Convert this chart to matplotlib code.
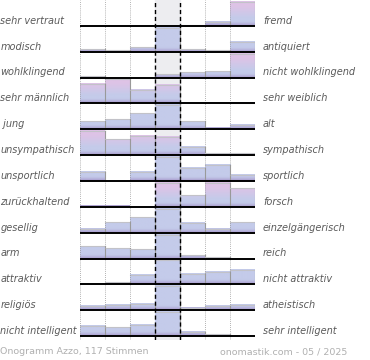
import numpy as np
import matplotlib
matplotlib.use("Agg")
import matplotlib.pyplot as plt
from matplotlib import transforms
from matplotlib.colors import to_rgb

# --- datos ---
izquierda = ["sehr vertraut", "modisch", "wohlklingend", "sehr männlich", " jung",
             "unsympathisch", "unsportlich", "zurückhaltend", "gesellig", "arm",
             "attraktiv", "religiös", "nicht intelligent"]
derecha = ["fremd", "antiquiert", "nicht wohlklingend", "sehr weiblich", "alt",
           "sympathisch", "sportlich", "forsch", "einzelgängerisch", "reich",
           "nicht attraktiv", "atheistisch", "sehr intelligent"]

# altura relativa de cada columna (7 escalones por fila)
valores = [
    [0.00, 0.00, 0.00, 0.00, 0.04, 0.17, 1.00],
    [0.12, 0.07, 0.18, 1.00, 0.12, 0.06, 0.42],
    [0.05, 0.00, 0.00, 0.15, 0.23, 0.29, 1.00],
    [0.82, 1.00, 0.55, 0.77, 0.00, 0.00, 0.03],
    [0.33, 0.41, 0.66, 1.00, 0.33, 0.07, 0.19],
    [1.00, 0.66, 0.81, 0.77, 0.34, 0.07, 0.08],
    [0.38, 0.00, 0.38, 1.00, 0.56, 0.67, 0.25],
    [0.05, 0.05, 0.00, 1.00, 0.48, 1.00, 0.77],
    [0.17, 0.43, 0.64, 1.00, 0.42, 0.17, 0.43],
    [0.51, 0.44, 0.39, 1.00, 0.14, 0.06, 0.00],
    [0.00, 0.08, 0.39, 1.00, 0.43, 0.51, 0.60],
    [0.19, 0.23, 0.28, 1.00, 0.11, 0.19, 0.23],
    [0.44, 0.37, 0.47, 1.00, 0.17, 0.07, 0.00],
]

pie_izq = "Onogramm Azzo, 117 Stimmen"
pie_der = "onomastik.com - 05 / 2025"

# --- colores ---
azul = np.array(to_rgb("#c4cbea"))
rosa = np.array(to_rgb("#dec3e6"))
morado = np.array(to_rgb("#a493c8"))
texto_gris = "#5a5a5a"


def color_en(t, polarizada):
    # t = fracción de la altura de la fila (0 = base)
    c = azul.copy()
    if polarizada:
        k = np.clip((t - 0.3) / 0.45, 0, 1)
        c = c * (1 - k) + rosa * k
    b = np.clip(1 - t / 0.18, 0, 1) ** 1.5
    return c * (1 - b) + morado * b


n_filas = len(valores)
escala = 0.93

fig = plt.figure(figsize=(3.7, 3.6), dpi=100)
ax = fig.add_axes([80 / 370, 20 / 360, 175 / 370, 340 / 360])
ax.set_xlim(0, 7)
ax.set_ylim(-0.15, n_filas)
ax.axis("off")

# fondo de la columna central
ax.axvspan(3, 4, color="#ededf0", zorder=0)

for i, fila in enumerate(valores):
    base = n_filas - 1 - i
    fila = np.array(fila)
    polarizada = any(v >= fila.max() for j, v in enumerate(fila) if j != 3)
    for j, v in enumerate(fila):
        h = v * escala
        if h <= 0:
            continue
        ts = np.linspace(0, h, 60)
        img = np.array([color_en(t, polarizada) for t in ts]).reshape(-1, 1, 3)
        ax.imshow(img, extent=(j, j + 1, base, base + h), origin="lower",
                  aspect="auto", interpolation="bilinear", zorder=2)
        ax.plot([j, j + 1], [base + h, base + h], color="#c2c2c8", lw=0.8, zorder=3)
        ax.plot([j + 1, j + 1], [base, base + h], color="#9a9a9a", lw=0.8, zorder=3)

# rejilla
for x in [0, 1, 2, 5, 6, 7]:
    ax.axvline(x, color="#999999", lw=0.6, ls=(0, (1, 1.5)), zorder=4)
for x in [3, 4]:
    ax.axvline(x, color="black", lw=1.0, ls=(0, (3, 2)), zorder=4)

for i in range(n_filas):
    base = n_filas - 1 - i
    ax.plot([0, 7], [base, base], color="black", lw=1.4, zorder=5,
            solid_capstyle="butt")

# etiquetas
trans = transforms.blended_transform_factory(fig.transFigure, ax.transData)
for i in range(n_filas):
    y = n_filas - 1 - i + 0.2
    ax.text(0.5 / 370, y, izquierda[i], transform=trans, ha="left", va="center",
            fontsize=7, style="italic", color=texto_gris, clip_on=False)
    ax.text(263 / 370, y, derecha[i], transform=trans, ha="left", va="center",
            fontsize=7, style="italic", color=texto_gris, clip_on=False)

fig.text(0.5 / 370, 1 - 352 / 360, pie_izq, ha="left", va="center",
         fontsize=6.8, color="#b0b0b0")
fig.text(347 / 370, 1 - 352 / 360, pie_der, ha="right", va="center",
         fontsize=6.8, color="#b0b0b0")

fig.savefig("out.png", dpi=100)
